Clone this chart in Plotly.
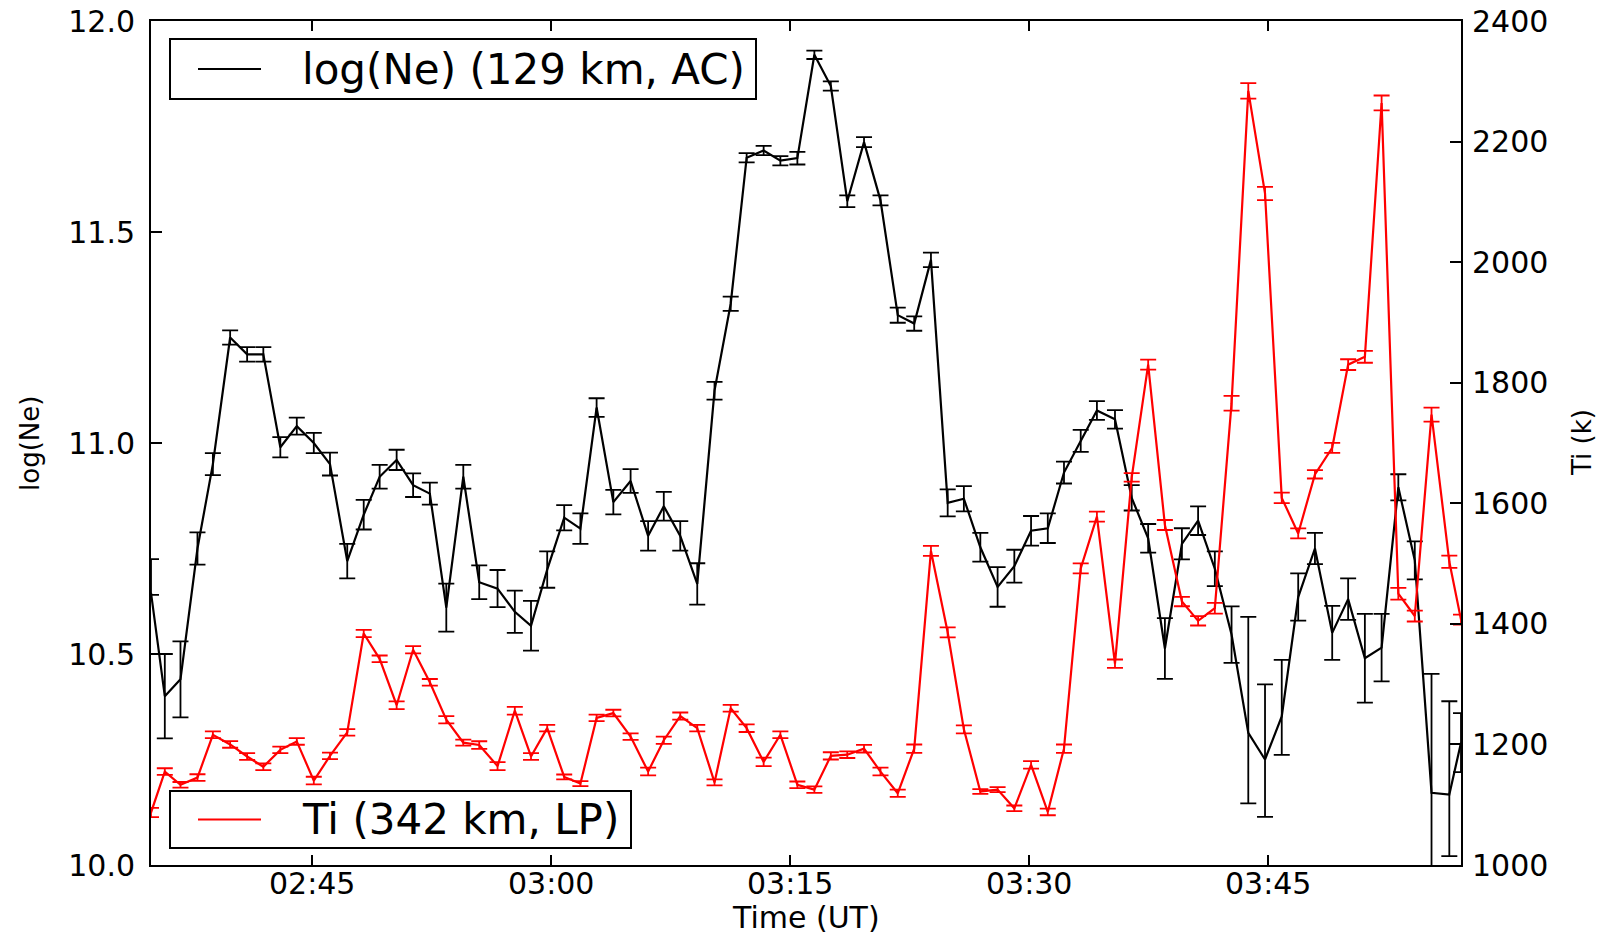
import plotly.graph_objects as go

# Sample times (UT) shared by both series
TIMES = [
    "02:34:53", "02:35:45", "02:36:44", "02:37:48", "02:38:46", "02:39:51", "02:40:55", "02:41:56",
    "02:43:00", "02:44:02", "02:45:06", "02:46:07", "02:47:12", "02:48:14", "02:49:14", "02:50:18",
    "02:51:20", "02:52:23", "02:53:25", "02:54:29", "02:55:29", "02:56:38", "02:57:43", "02:58:44",
    "02:59:45", "03:00:49", "03:01:50", "03:02:51", "03:03:54", "03:04:59", "03:06:05", "03:07:04",
    "03:08:06", "03:09:10", "03:10:15", "03:11:16", "03:12:16", "03:13:20", "03:14:23", "03:15:27",
    "03:16:31", "03:17:33", "03:18:35", "03:19:38", "03:20:40", "03:21:45", "03:22:47", "03:23:50",
    "03:24:53", "03:25:54", "03:26:56", "03:28:01", "03:29:04", "03:30:07", "03:31:10", "03:32:11",
    "03:33:14", "03:34:15", "03:35:23", "03:36:26", "03:37:28", "03:38:31", "03:39:35", "03:40:36",
    "03:41:39", "03:42:42", "03:43:45", "03:44:48", "03:45:51", "03:46:53", "03:47:56", "03:49:01",
    "03:50:01", "03:51:04", "03:52:07", "03:53:10", "03:54:12", "03:55:15", "03:56:22", "03:57:06",
]

# log10 electron density at 129 km (AC)
LOG_NE = [
    10.645, 10.40, 10.44, 10.75, 10.95, 11.25, 11.21, 11.21, 10.99, 11.04,
    11.00, 10.95, 10.72, 10.83, 10.92, 10.96, 10.90, 10.88, 10.61, 10.92,
    10.67, 10.655, 10.60, 10.567, 10.70, 10.823, 10.797, 11.084, 10.86, 10.91,
    10.78, 10.85, 10.78, 10.666, 11.124, 11.33, 11.676, 11.693, 11.669, 11.675,
    11.92, 11.846, 11.573, 11.713, 11.575, 11.303, 11.283, 11.434, 10.858, 10.868,
    10.753, 10.659, 10.708, 10.792, 10.798, 10.93, 11.005, 11.077, 11.056, 10.87,
    10.774, 10.513, 10.761, 10.816, 10.702, 10.546, 10.313, 10.25, 10.352, 10.635,
    10.75, 10.55, 10.63, 10.49, 10.515, 10.895, 10.722, 10.171, 10.167, 10.29,
]
LOG_NE_ERR_UP = [
    0.08, 0.10, 0.09, 0.038, 0.026, 0.017, 0.017, 0.017, 0.024, 0.02,
    0.024, 0.027, 0.041, 0.035, 0.028, 0.024, 0.028, 0.026, 0.057, 0.028,
    0.04, 0.044, 0.05, 0.059, 0.043, 0.03, 0.036, 0.022, 0.029, 0.028,
    0.035, 0.034, 0.035, 0.049, 0.021, 0.017, 0.011, 0.011, 0.011, 0.015,
    0.01, 0.011, 0.014, 0.012, 0.012, 0.018, 0.017, 0.017, 0.032, 0.03,
    0.034, 0.047, 0.039, 0.035, 0.035, 0.026, 0.026, 0.022, 0.022, 0.03,
    0.034, 0.072, 0.037, 0.034, 0.041, 0.067, 0.275, 0.178, 0.134, 0.056,
    0.037, 0.064, 0.049, 0.105, 0.08, 0.031, 0.045, 0.282, 0.221, 0.07,
]
LOG_NE_ERR_DOWN = [
    0.005, 0.10, 0.09, 0.038, 0.026, 0.017, 0.017, 0.017, 0.024, 0.02,
    0.024, 0.027, 0.041, 0.035, 0.028, 0.024, 0.028, 0.026, 0.057, 0.028,
    0.04, 0.044, 0.05, 0.059, 0.043, 0.03, 0.036, 0.022, 0.029, 0.028,
    0.035, 0.034, 0.035, 0.049, 0.021, 0.017, 0.011, 0.011, 0.011, 0.015,
    0.01, 0.011, 0.014, 0.012, 0.012, 0.018, 0.017, 0.017, 0.032, 0.03,
    0.034, 0.047, 0.039, 0.035, 0.035, 0.026, 0.026, 0.022, 0.022, 0.03,
    0.034, 0.072, 0.037, 0.034, 0.041, 0.067, 0.167, 0.136, 0.091, 0.056,
    0.037, 0.064, 0.049, 0.105, 0.08, 0.031, 0.045, 0.28, 0.146, 0.07,
]

# Ion temperature at 342 km (LP), kelvin
TI = [
    1087, 1155, 1133, 1145, 1216, 1200, 1180, 1163, 1191, 1205,
    1140, 1181, 1220, 1384, 1342, 1265, 1357, 1303, 1241, 1203,
    1199, 1164, 1256, 1180, 1227, 1146, 1135, 1244, 1252, 1213,
    1155, 1207, 1247, 1227, 1137, 1260, 1227, 1171, 1216, 1133,
    1125, 1181, 1183, 1193, 1155, 1119, 1193, 1521, 1386, 1225,
    1122, 1125, 1094, 1166, 1088, 1193, 1492, 1578, 1334, 1643,
    1830, 1564, 1437, 1405, 1426, 1766, 2284, 2114, 1609, 1550,
    1648, 1692, 1830, 1843, 2264, 1450, 1413, 1747, 1503, 1407,
]
TI_ERR = [
    7.7, 5.5, 4.7, 5.5, 5.5, 5.5, 5.5, 5.5, 5.5, 5.5,
    6.4, 5.5, 5.5, 6.0, 5.5, 6.3, 6.0, 5.5, 6.0, 5.0,
    6.3, 6.6, 6.4, 5.5, 5.5, 4.1, 4.1, 5.5, 5.5, 5.5,
    6.4, 6.0, 6.0, 5.5, 5.0, 5.5, 6.4, 7.0, 5.5, 5.5,
    5.5, 6.0, 5.5, 6.4, 6.4, 6.0, 6.9, 8.3, 8.3, 6.6,
    3.9, 4.1, 4.7, 6.3, 5.5, 6.9, 8.3, 8.3, 6.9, 7.0,
    8.3, 8.3, 7.8, 7.7, 8.9, 12.2, 12.9, 11.0, 8.8, 8.3,
    6.9, 8.3, 8.9, 9.9, 12.4, 9.7, 9.1, 11.6, 10.2, 8.3,
]

X_TICK_LABELS = ["02:45", "03:00", "03:15", "03:30", "03:45"]
Y_TICKS = [10.0, 10.5, 11.0, 11.5, 12.0]
Y2_TICKS = [1000, 1200, 1400, 1600, 1800, 2000, 2200, 2400]

NE_NAME = "log(Ne) (129 km, AC)"
TI_NAME = "Ti (342 km, LP)"


def to_minutes(hms):
    parts = [int(p) for p in hms.split(":")]
    while len(parts) < 3:
        parts.append(0)
    h, m, s = parts
    return h * 60 + m + s / 60.0


x = [to_minutes(t) for t in TIMES]
tickvals = [to_minutes(t) for t in X_TICK_LABELS]

FONT = "DejaVu Sans"
INK = "#000000"

fig = go.Figure()

fig.add_trace(go.Scatter(
    x=x, y=LOG_NE, name=NE_NAME, mode="lines",
    line=dict(color="#000000", width=2.2),
    error_y=dict(type="data", symmetric=False, array=LOG_NE_ERR_UP,
                 arrayminus=LOG_NE_ERR_DOWN, color="#000000",
                 thickness=1.8, width=8),
    showlegend=False,
))

fig.add_trace(go.Scatter(
    x=x, y=TI, name=TI_NAME, mode="lines", yaxis="y2",
    line=dict(color="#ff0000", width=2.2),
    error_y=dict(type="data", array=TI_ERR, color="#ff0000",
                 thickness=1.8, width=8),
    showlegend=False,
))

L, R, T, B = 151, 145, 21, 69
W, H = 1606, 934
PW, PH = W - L - R, H - T - B


def px(xp):
    return (xp - L) / PW


def py(yp):
    return (H - B - yp) / PH


axis_common = dict(
    showgrid=False, zeroline=False, showline=True, linecolor=INK, linewidth=2,
    ticks="inside", tickcolor=INK, tickwidth=1.5, automargin=False,
    tickfont=dict(family=FONT, size=30, color=INK),
)

fig.update_layout(
    template="none",
    width=W, height=H,
    margin=dict(l=L, r=R, t=T, b=B, pad=0, autoexpand=False),
    paper_bgcolor="white", plot_bgcolor="white",
    xaxis=dict(
        range=[x[0], x[-1]], tickvals=tickvals, ticktext=X_TICK_LABELS,
        ticklen=10, mirror="ticks", ticklabelstandoff=-9, **axis_common,
    ),
    yaxis=dict(
        range=[10.0, 12.0], tickvals=Y_TICKS,
        ticktext=[f"{v:.1f}" for v in Y_TICKS],
        ticklen=11, ticklabelstandoff=8, **axis_common,
    ),
    yaxis2=dict(
        range=[1000, 2400], tickvals=Y2_TICKS,
        ticktext=[str(v) for v in Y2_TICKS],
        overlaying="y", side="right", ticklen=11, ticklabelstandoff=3,
        **axis_common,
    ),
)

# Axis titles
fig.add_annotation(text="Time (UT)", xref="paper", yref="paper",
                   x=0.5, y=py(918), xanchor="center", yanchor="middle",
                   showarrow=False, font=dict(family=FONT, size=30, color=INK))
fig.add_annotation(text="log(Ne)", xref="paper", yref="paper",
                   x=px(30), y=0.5, xanchor="center", yanchor="middle", textangle=-90,
                   showarrow=False, font=dict(family=FONT, size=26, color=INK))
fig.add_annotation(text="Ti (k)", xref="paper", yref="paper",
                   x=px(1582), y=0.5, xanchor="center", yanchor="middle", textangle=-90,
                   showarrow=False, font=dict(family=FONT, size=26, color=INK))

# Legend boxes (one per axis, upper and lower left)
def legend_box(x0, x1, y0, y1, color, label):
    fig.add_shape(type="rect", xref="paper", yref="paper",
                  x0=px(x0), x1=px(x1), y0=py(y1), y1=py(y0),
                  line=dict(color=INK, width=2), fillcolor="white", layer="above")
    yc = (y0 + y1) / 2
    fig.add_shape(type="line", xref="paper", yref="paper",
                  x0=px(198), x1=px(261), y0=py(yc), y1=py(yc),
                  line=dict(color=color, width=2.2), layer="above")
    fig.add_annotation(text=label, xref="paper", yref="paper",
                       x=px(300), y=py(yc), xanchor="left", yanchor="middle",
                       showarrow=False, font=dict(family=FONT, size=42, color=INK))


legend_box(170, 756, 39, 99, "#000000", NE_NAME)
legend_box(170, 631, 791, 848, "#ff0000", TI_NAME)

fig.write_html("out.html")
